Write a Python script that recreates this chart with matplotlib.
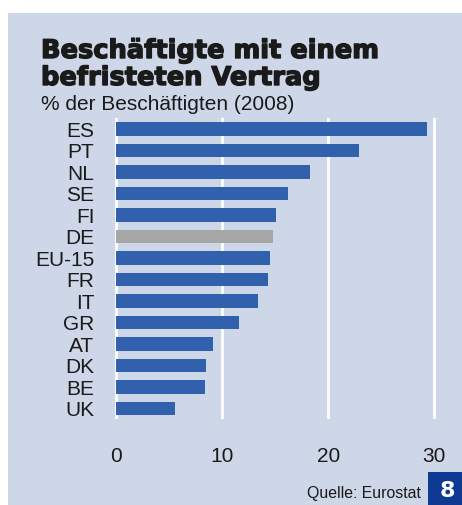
import matplotlib.pyplot as plt
import matplotlib.patheffects as pe
from matplotlib.patches import Rectangle

# data (Eurostat, 2008)
countries = ['ES', 'PT', 'NL', 'SE', 'FI', 'DE', 'EU-15', 'FR', 'IT', 'GR', 'AT', 'DK', 'BE', 'UK']
values = [29.3, 22.9, 18.3, 16.2, 15.1, 14.8, 14.5, 14.3, 13.4, 11.6, 9.1, 8.5, 8.4, 5.5]
x_ticks = [0, 10, 20, 30]

blue = '#3161AC'
grey = '#A6A6A6'
panel = '#CDD7E8'
colors = [grey if c == 'DE' else blue for c in countries]

W, H = 462, 505
fig = plt.figure(figsize=(W / 100, H / 100), dpi=100, facecolor='white')

# light blue panel behind everything
fig.patches.append(Rectangle((8 / W, 0), 1 - 8 / W, 1 - 13 / H, transform=fig.transFigure,
                             facecolor=panel, edgecolor='none', zorder=-5))

ax = fig.add_axes([113 / W, 1 - 419.25 / H, (437.5 - 113) / W, (419.25 - 118.25) / H])
ax.set_facecolor('none')
ypos = range(len(countries))
ax.barh(ypos, values, height=0.62, color=colors, zorder=3)
ax.set_xlim(-0.3, 30.3)
ax.set_ylim(len(countries) - 0.5, -0.5)

ax.set_yticks(list(ypos))
ax.set_yticklabels(countries, fontsize=15, family='Liberation Sans', color='#1a1a1a')
ax.set_xticks(x_ticks)
ax.set_xticklabels([str(t) for t in x_ticks], fontsize=15, family='Liberation Sans', color='#1a1a1a')
ax.tick_params(axis='y', length=0, pad=13.5)
ax.tick_params(axis='x', length=0, pad=20)
for s in ax.spines.values():
    s.set_visible(False)
ax.grid(axis='x', color='white', linewidth=2, zorder=1)
ax.set_axisbelow(True)

# titles
heavy = [pe.withStroke(linewidth=1.0, foreground='#1a1a1a')]
fig.text(41 / W, 1 - 58 / H, 'Beschäftigte mit einem', fontsize=18.5, fontweight='bold',
         family='DejaVu Sans', color='#1a1a1a', va='baseline', path_effects=heavy)
fig.text(41 / W, 1 - 85 / H, 'befristeten Vertrag', fontsize=18.5, fontweight='bold',
         family='DejaVu Sans', color='#1a1a1a', va='baseline', path_effects=heavy)
fig.text(41 / W, 1 - 110 / H, '% der Beschäftigten (2008)', fontsize=15, family='Liberation Sans',
         color='#1a1a1a', va='baseline')

# source and page number box
fig.text(420.5 / W, 1 - 498 / H, 'Quelle: Eurostat', fontsize=11.4, family='Liberation Sans',
         color='#1a1a1a', ha='right', va='baseline')
fig.patches.append(Rectangle((428 / W, 0), 1 - 428 / W, 33 / H, transform=fig.transFigure,
                             facecolor='#0E3A93', edgecolor='none', zorder=1))
fig.text(447 / W, 1 - 491 / H, '8', fontsize=16, fontweight='bold', family='DejaVu Sans',
         color='white', ha='center', va='center')

fig.savefig('out.png', dpi=100, facecolor='white')
